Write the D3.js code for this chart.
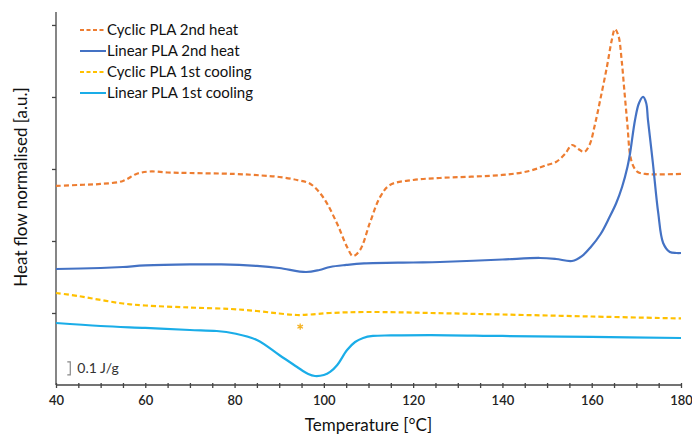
<!DOCTYPE html>
<html>
<meta charset="utf-8">
<style>
body { margin: 0; background: #fff; font-family: Lato, 'Open Sans', sans-serif; }
svg { display: block; }
.axis path, .axis line { stroke: #444; stroke-width: 1.3; }
.axis text { font-family: Lato, sans-serif; font-size: 13px; font-weight: 600; fill: #222; }
text.title { font-size: 17px; fill: #111; }
text.legend { font-size: 15px; fill: #111; }
text.scale { font-size: 14px; fill: #333; }
</style>
<body>
<svg width="692" height="434"></svg>
<script src="https://cdn.jsdelivr.net/npm/d3@7"></script>
<script>
// temperatures (°C) and normalised heat flow (a.u.)
var cyc2Temp = [40, 45, 50, 55, 58, 61, 65, 70, 80, 86, 90, 94, 97, 99.8, 102.9, 105.2, 106.5, 108.1, 110.3, 112.6, 114.8, 120, 126, 140, 146, 150, 152, 154, 155.6, 157, 158.3, 159.5, 160.7, 161.9, 163.4, 164.5, 165.2, 166, 166.7, 167.3, 168, 168.6, 169.3, 170.3, 172, 180];
var cyc2Flow = [2.764, 2.778, 2.792, 2.833, 2.931, 2.965, 2.951, 2.944, 2.931, 2.91, 2.889, 2.847, 2.792, 2.611, 2.25, 1.917, 1.792, 1.875, 2.25, 2.611, 2.778, 2.847, 2.875, 2.917, 2.972, 3.056, 3.097, 3.208, 3.333, 3.278, 3.236, 3.333, 3.611, 3.958, 4.417, 4.792, 4.944, 4.847, 4.514, 4.097, 3.611, 3.194, 3.042, 2.958, 2.931, 2.931];

var lin2Temp = [40, 50, 55, 60, 70, 77, 85, 90, 96, 99, 101.4, 105, 109, 120, 126, 140, 148.4, 152, 155.6, 157.8, 159.8, 162, 164, 165.5, 166.8, 168, 168.6, 169.7, 170.6, 171.5, 172.2, 172.6, 173.7, 174.9, 176, 177.5, 179, 180];
var lin2Flow = [1.611, 1.625, 1.639, 1.66, 1.674, 1.674, 1.653, 1.625, 1.569, 1.597, 1.639, 1.667, 1.688, 1.701, 1.708, 1.743, 1.764, 1.75, 1.722, 1.79, 1.917, 2.097, 2.333, 2.528, 2.75, 3.028, 3.222, 3.681, 3.917, 4.0, 3.917, 3.681, 3.083, 2.389, 1.972, 1.847, 1.833, 1.833];

var cyc1Temp = [40, 45, 50, 55, 60, 70, 79, 85, 90, 94, 97, 101.4, 110, 124, 140, 160, 180];
var cyc1Flow = [1.278, 1.236, 1.181, 1.132, 1.104, 1.076, 1.056, 1.028, 0.993, 0.972, 0.979, 1.0, 1.014, 1.0, 0.979, 0.951, 0.924];

var lin1Temp = [40, 50, 60, 70, 76, 80, 85, 90, 94, 96.5, 98, 100, 101.4, 103, 105.2, 107, 108.8, 111, 115, 124, 140, 160, 180];
var lin1Flow = [0.861, 0.819, 0.792, 0.764, 0.75, 0.715, 0.625, 0.417, 0.25, 0.153, 0.125, 0.139, 0.181, 0.278, 0.486, 0.597, 0.653, 0.681, 0.688, 0.694, 0.681, 0.667, 0.653];

var seriesNames = ["Cyclic PLA 2nd heat", "Linear PLA 2nd heat", "Cyclic PLA 1st cooling", "Linear PLA 1st cooling"];
var xTickValues = [40, 60, 80, 100, 120, 140, 160, 180];
var yTickValues = [1, 2, 3, 4, 5];

var series = [
  { name: seriesNames[0], t: cyc2Temp, v: cyc2Flow, color: "#ED7D31", dash: "5,3" },
  { name: seriesNames[1], t: lin2Temp, v: lin2Flow, color: "#4472C4", dash: null },
  { name: seriesNames[2], t: cyc1Temp, v: cyc1Flow, color: "#FFC000", dash: "5,3" },
  { name: seriesNames[3], t: lin1Temp, v: lin1Flow, color: "#1AADE8", dash: null }
];

var svg = d3.select("svg"),
    margin = { top: 12, right: 11, bottom: 49, left: 56 },
    width = +svg.attr("width") - margin.left - margin.right,
    height = +svg.attr("height") - margin.top - margin.bottom;

var x = d3.scaleLinear().domain([40, 180]).range([0, width]);
var y = d3.scaleLinear().domain([0, 5.18]).range([height, 0]);

var g = svg.append("g").attr("transform", "translate(" + margin.left + "," + margin.top + ")");

// x axis: minor ticks every 5, labels every 20
var xAxis = g.append("g").attr("class", "axis")
  .attr("transform", "translate(0," + height + ")")
  .call(d3.axisBottom(x).tickValues(d3.range(40, 181, 5)).tickSize(3).tickPadding(8)
    .tickFormat(function(d) { return xTickValues.indexOf(d) >= 0 ? d : ""; }));
xAxis.selectAll(".tick line").attr("y1", -2);
xAxis.select(".domain").attr("d", "M0,0H" + width);

var yAxis = g.append("g").attr("class", "axis")
  .call(d3.axisLeft(y).tickValues(yTickValues).tickSize(4).tickFormat(""));
yAxis.select(".domain").attr("d", "M0," + height + "V0");

var line = d3.line()
  .x(function(d) { return x(d[0]); })
  .y(function(d) { return y(d[1]); })
  .curve(d3.curveCatmullRom.alpha(0.5));

series.forEach(function(s) {
  g.append("path")
    .datum(d3.zip(s.t, s.v))
    .attr("fill", "none")
    .attr("stroke", s.color)
    .attr("stroke-width", 2.2)
    .attr("stroke-dasharray", s.dash)
    .attr("d", line);
});

// asterisk under the cyclic cooling curve
g.append("path")
  .attr("transform", "translate(" + x(94.7) + "," + y(0.81) + ")")
  .attr("d", d3.symbol(d3.symbolAsterisk, 28)())
  .attr("fill", "none")
  .attr("stroke", "#F5B325")
  .attr("stroke-width", 1.3);

// legend
var leg = g.append("g").attr("transform", "translate(24,18)");
series.forEach(function(s, i) {
  var row = leg.append("g").attr("transform", "translate(0," + (i * 21) + ")");
  row.append("line").attr("x1", 0).attr("x2", 26)
    .attr("stroke", s.color).attr("stroke-width", 2).attr("stroke-dasharray", s.dash ? "4,2.5" : null);
  row.append("text").attr("class", "legend").attr("x", 27).attr("dy", "0.35em").text(s.name);
});

// scale bar
var sb = g.append("g");
var sx = x(43.2);
sb.append("path")
  .attr("d", "M" + (sx - 3) + "," + y(0.32) + "H" + sx + "V" + y(0.14) + "H" + (sx - 3))
  .attr("fill", "none").attr("stroke", "#888").attr("stroke-width", 1.2);
sb.append("text").attr("class", "scale").attr("x", sx + 7).attr("y", y(0.16)).text("0.1 J/g");

// axis titles
svg.append("text").attr("class", "title")
  .attr("x", margin.left + width / 2).attr("y", 431)
  .attr("text-anchor", "middle").text("Temperature [°C]");
svg.append("text").attr("class", "title")
  .attr("transform", "translate(27," + 187 + ") rotate(-90)")
  .attr("text-anchor", "middle").text("Heat flow normalised [a.u.]");
</script>
</body>
</html>
